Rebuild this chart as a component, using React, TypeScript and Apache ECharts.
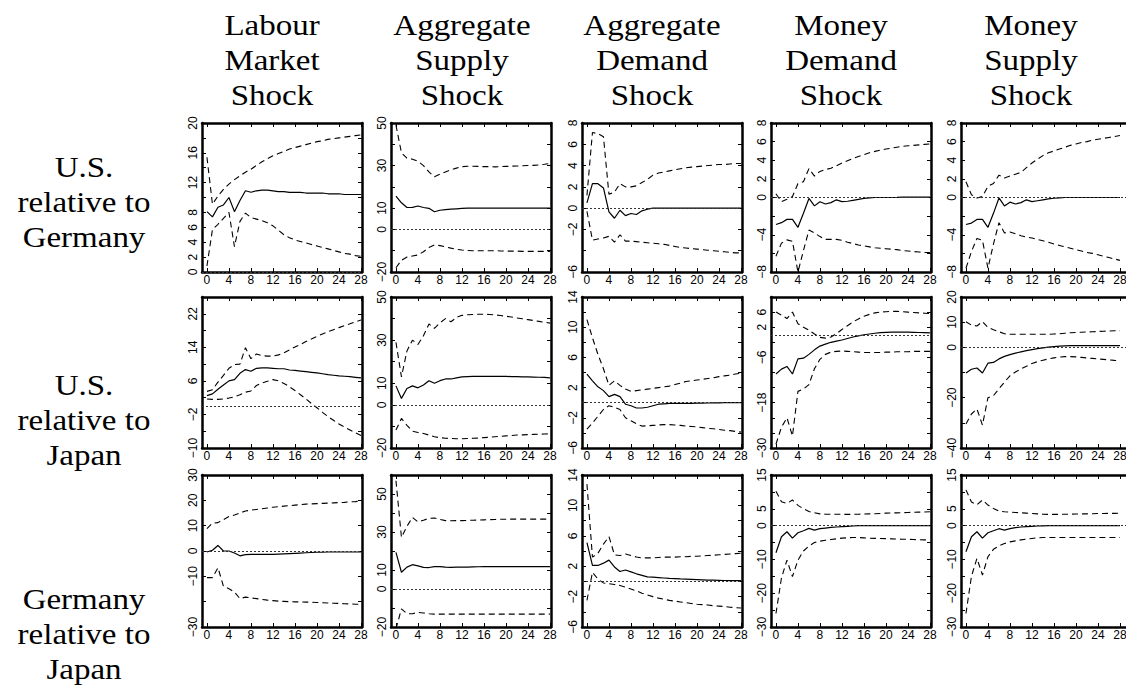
import React, { useEffect, useRef } from "react";
import * as echarts from "echarts";

// Forecast horizon (quarters after the shock)
const horizons = [0, 1, 2, 3, 4, 5, 6, 7, 8, 9, 10, 11, 12, 13, 14, 15, 16, 17, 18, 19, 20, 21, 22, 23, 24, 25, 26, 27, 28];

const shockTitles = [
  "Labour\nMarket\nShock",
  "Aggregate\nSupply\nShock",
  "Aggregate\nDemand\nShock",
  "Money\nDemand\nShock",
  "Money\nSupply\nShock",
];
const pairTitles = ["U.S.\nrelative to\nGermany", "U.S.\nrelative to\nJapan", "Germany\nrelative to\nJapan"];

// ---- U.S. relative to Germany ----
const usDeLabourMid = [8.1, 7.4, 8.7, 9.0, 10.0, 8.1, 9.6, 10.9, 10.7, 10.9, 11.0, 11.0, 10.9, 10.8, 10.8, 10.7, 10.7, 10.7, 10.6, 10.6, 10.6, 10.6, 10.5, 10.5, 10.5, 10.4, 10.4, 10.4, 10.4];
const usDeLabourHi = [15.4, 9.1, 10.2, 11.1, 11.8, 12.4, 12.9, 13.4, 13.8, 14.3, 14.8, 15.2, 15.6, 15.9, 16.2, 16.5, 16.7, 16.9, 17.1, 17.3, 17.5, 17.6, 17.8, 17.9, 18.0, 18.1, 18.2, 18.3, 18.4];
const usDeLabourLo = [0.8, 5.7, 6.4, 7.2, 8.0, 3.4, 6.8, 7.9, 7.3, 7.1, 6.9, 6.6, 6.2, 5.6, 5.0, 4.6, 4.3, 4.1, 3.9, 3.7, 3.5, 3.3, 3.1, 2.9, 2.7, 2.5, 2.4, 2.2, 2.1];

const usDeSupplyMid = [15.7, 12.5, 10.3, 10.4, 11.0, 10.3, 9.9, 8.3, 9.0, 9.3, 9.5, 9.7, 9.9, 10.0, 10.0, 10.0, 10.0, 10.0, 10.0, 10.0, 10.0, 10.0, 10.0, 10.0, 10.0, 10.0, 10.0, 10.0, 10.0];
const usDeSupplyHi = [49, 36, 33.5, 33, 32, 30, 27, 24.7, 26, 27, 28, 28.8, 29.5, 29.7, 29.7, 29.6, 29.5, 29.5, 29.4, 29.5, 29.6, 29.7, 29.8, 29.9, 30.0, 30.1, 30.3, 30.6, 31.0];
const usDeSupplyLo = [-18, -14.5, -13, -12.5, -12, -10.5, -8.5, -7.3, -7.6, -8.2, -8.8, -9.3, -9.7, -9.9, -10, -10, -10, -10, -10, -10.1, -10.2, -10.2, -10.2, -10.3, -10.3, -10.3, -10.3, -10.3, -10.3];

const usDeDemandMid = [0.5, 2.3, 2.3, 1.9, -0.35, -0.95, -0.2, -0.7, -0.5, -0.6, -0.25, -0.1, 0, 0, 0, 0, 0, 0, 0, 0, 0, 0, 0, 0, 0, 0, 0, 0, 0];
const usDeDemandHi = [1.2, 7.1, 7.0, 6.7, 1.3, 1.5, 2.3, 2.0, 2.0, 2.1, 2.4, 2.7, 3.1, 3.3, 3.4, 3.5, 3.6, 3.7, 3.8, 3.85, 3.9, 3.95, 4.0, 4.05, 4.1, 4.1, 4.15, 4.2, 4.2];
const usDeDemandLo = [-0.3, -3.0, -2.9, -2.8, -2.65, -3.2, -2.5, -3.1, -3.1, -3.15, -3.2, -3.25, -3.3, -3.35, -3.4, -3.5, -3.6, -3.7, -3.75, -3.8, -3.85, -3.9, -3.95, -4.0, -4.05, -4.1, -4.15, -4.2, -4.2];

const usDeMoneyDMid = [-2.9, -2.7, -2.35, -2.35, -3.2, -1.7, -0.1, -0.9, -0.45, -0.7, -0.55, -0.25, -0.45, -0.4, -0.3, -0.2, -0.1, -0.05, 0, 0, 0, 0, 0.02, 0.05, 0.05, 0.05, 0.05, 0.05, 0.05];
const usDeMoneyDHi = [0.4, -0.45, -0.2, 0.1, 1.5, 1.7, 3.1, 2.3, 2.8, 3.0, 3.15, 3.4, 3.7, 3.95, 4.2, 4.4, 4.6, 4.8, 4.95, 5.1, 5.2, 5.3, 5.4, 5.5, 5.55, 5.6, 5.65, 5.7, 5.75];
const usDeMoneyDLo = [-6.3, -4.9, -4.55, -4.7, -8.0, -5.7, -3.5, -3.8, -4.2, -4.5, -4.5, -4.5, -4.6, -4.8, -4.95, -5.1, -5.2, -5.3, -5.4, -5.45, -5.5, -5.55, -5.6, -5.7, -5.75, -5.8, -5.85, -5.9, -5.9];

const usDeMoneySMid = [-2.9, -2.75, -2.35, -2.35, -3.2, -1.7, -0.05, -0.9, -0.5, -0.7, -0.55, -0.25, -0.45, -0.35, -0.25, -0.15, -0.08, -0.03, 0, 0, 0, 0, 0, 0, 0, 0, 0, 0, 0];
const usDeMoneySHi = [1.7, 0.3, -0.05, 0.1, 1.2, 1.5, 2.4, 2.1, 2.3, 2.5, 2.7, 3.2, 3.7, 4.1, 4.5, 4.8, 5.0, 5.2, 5.4, 5.6, 5.75, 5.9, 6.0, 6.15, 6.25, 6.35, 6.45, 6.55, 6.65];
const usDeMoneySLo = [-7.6, -5.8, -4.4, -4.6, -7.6, -5.0, -2.7, -3.8, -3.7, -3.9, -4.1, -4.25, -4.35, -4.5, -4.65, -4.8, -5.0, -5.15, -5.3, -5.45, -5.6, -5.75, -5.9, -6.0, -6.15, -6.3, -6.45, -6.6, -6.75];

// ---- U.S. relative to Japan ----
const usJpLabourMid = [2.5, 2.9, 4.0, 5.0, 6.0, 6.3, 7.8, 8.7, 8.3, 9.0, 9.1, 9.1, 9.0, 8.9, 8.9, 8.6, 8.5, 8.35, 8.2, 8.05, 7.9, 7.7, 7.5, 7.35, 7.2, 7.1, 7.0, 6.85, 6.7];
const usJpLabourHi = [3.5, 3.9, 5.7, 7.3, 9.0, 9.9, 10.0, 13.9, 11.3, 12.4, 12.0, 11.9, 11.9, 12.2, 12.7, 13.4, 14.1, 14.7, 15.4, 16.0, 16.6, 17.2, 17.7, 18.2, 18.7, 19.2, 19.6, 20.1, 20.5];
const usJpLabourLo = [1.7, 1.6, 1.6, 1.7, 1.9, 2.2, 2.7, 3.3, 3.6, 4.9, 5.5, 5.9, 6.3, 6.0, 5.4, 4.6, 3.7, 2.7, 1.7, 0.6, -0.4, -1.5, -2.5, -3.4, -4.3, -5.0, -5.7, -6.4, -7.0];

const usJpSupplyMid = [8.8, 3.0, 7.6, 8.8, 7.9, 9.2, 11.2, 10.0, 11.2, 12.0, 12.0, 12.5, 13.0, 13.1, 13.2, 13.2, 13.2, 13.2, 13.2, 13.2, 13.2, 13.1, 13.1, 13.0, 13.0, 12.9, 12.8, 12.7, 12.5];
const usJpSupplyHi = [29, 13, 25, 30, 28, 32, 37.5, 35.5, 38, 40, 38.5, 40.5, 41.5, 41.8, 41.9, 42, 42, 41.9, 41.7, 41.4, 41.1, 40.7, 40.3, 39.9, 39.5, 39.1, 38.7, 38.3, 37.9];
const usJpSupplyLo = [-11.7, -6.3, -9.5, -12.2, -12.8, -13.3, -14, -14.8, -15.2, -15.5, -15.6, -15.7, -15.7, -15.6, -15.5, -15.4, -15.2, -15.0, -14.8, -14.6, -14.4, -14.2, -14.0, -13.9, -13.8, -13.7, -13.6, -13.5, -13.4];

const usJpDemandMid = [3.8, 2.9, 2.1, 1.6, 0.8, 1.1, 0.8, -0.2, -0.4, -0.7, -0.7, -0.6, -0.4, -0.2, -0.15, -0.1, -0.1, -0.1, -0.1, -0.08, -0.06, -0.05, -0.04, -0.03, -0.02, 0, 0, 0, 0];
const usJpDemandHi = [11, 8.6, 6.4, 4.5, 2.3, 2.9, 2.3, 1.8, 1.5, 1.6, 1.7, 1.8, 1.9, 2.0, 2.1, 2.2, 2.4, 2.6, 2.8, 2.9, 3.0, 3.1, 3.2, 3.3, 3.45, 3.55, 3.65, 3.8, 3.9];
const usJpDemandLo = [-3.5, -2.7, -1.8, -0.9, -0.4, -0.6, -0.9, -2.0, -2.4, -2.8, -3.1, -3.05, -3.0, -2.95, -2.9, -2.9, -2.95, -3.0, -3.1, -3.15, -3.2, -3.3, -3.4, -3.45, -3.55, -3.65, -3.7, -3.8, -3.9];

const usJpMoneyDMid = [-10.4, -9.1, -8.4, -10.4, -6.4, -6.2, -5.2, -4.0, -3.0, -2.5, -2.0, -1.7, -1.4, -1.0, -0.6, -0.3, 0.0, 0.2, 0.4, 0.55, 0.65, 0.7, 0.7, 0.7, 0.7, 0.65, 0.6, 0.55, 0.5];
const usJpMoneyDHi = [6.0, 5.2, 4.3, 6.0, 2.9, 2.0, 1.2, 0.2, -0.7, -0.9, -0.6, 0.3, 1.4, 2.4, 3.4, 4.2, 4.9, 5.4, 5.8, 6.0, 6.1, 6.2, 6.2, 6.1, 6.0, 5.9, 5.8, 5.7, 5.6];
const usJpMoneyDLo = [-29, -24.5, -22, -26.8, -15, -14.4, -13.2, -9, -6.5, -5.2, -4.6, -4.4, -4.3, -4.4, -4.5, -4.6, -4.7, -4.7, -4.7, -4.7, -4.6, -4.6, -4.5, -4.5, -4.5, -4.4, -4.4, -4.4, -4.4];

const usJpMoneySMid = [-10.2, -8.7, -8.2, -10.2, -6.3, -6.0, -4.6, -3.6, -2.9, -2.3, -1.8, -1.3, -0.9, -0.5, -0.2, 0.1, 0.3, 0.5, 0.6, 0.65, 0.66, 0.66, 0.66, 0.66, 0.66, 0.66, 0.66, 0.66, 0.66];
const usJpMoneySHi = [10.2, 8.8, 8.5, 10.2, 7.9, 7.0, 6.2, 5.4, 5.2, 5.2, 5.2, 5.2, 5.2, 5.2, 5.2, 5.2, 5.3, 5.4, 5.6, 5.8, 5.9, 6.0, 6.1, 6.2, 6.3, 6.4, 6.5, 6.6, 6.6];
const usJpMoneySLo = [-30.5, -26.5, -24.5, -30.9, -20.0, -19.2, -16.5, -13.8, -11.3, -9.8, -8.6, -7.5, -6.4, -5.7, -5.1, -4.6, -4.2, -3.9, -3.7, -3.7, -3.8, -4.0, -4.2, -4.4, -4.6, -4.8, -5.0, -5.2, -5.3];

// ---- Germany relative to Japan ----
const deJpLabourMid = [-0.4, 0.3, 2.2, 0.0, 0.0, -0.8, -1.9, -1.4, -1.3, -1.3, -1.3, -1.3, -1.3, -1.2, -1.1, -1.0, -0.9, -0.8, -0.7, -0.6, -0.5, -0.5, -0.4, -0.4, -0.4, -0.4, -0.4, -0.4, -0.4];
const deJpLabourHi = [8.8, 11.0, 11.2, 12.4, 13.6, 14.2, 15.0, 15.8, 16.1, 16.4, 16.7, 17.0, 17.3, 17.5, 17.7, 17.9, 18.1, 18.3, 18.5, 18.6, 18.7, 18.8, 18.9, 19.0, 19.1, 19.2, 19.4, 19.5, 19.7];
const deJpLabourLo = [-10.5, -10.5, -6.6, -13.9, -14.9, -16.2, -18.8, -18.2, -18.5, -18.8, -19.1, -19.4, -19.6, -19.8, -19.9, -20.0, -20.1, -20.1, -20.2, -20.2, -20.3, -20.4, -20.5, -20.6, -20.7, -20.8, -20.9, -21.0, -21.0];

const deJpSupplyMid = [19.3, 8.8, 11.5, 12.8, 12.2, 11.4, 11.3, 11.8, 11.8, 11.5, 11.4, 11.5, 11.5, 11.5, 11.6, 11.7, 11.8, 11.8, 11.8, 11.8, 11.8, 11.8, 11.8, 11.8, 11.8, 11.8, 11.8, 11.8, 11.8];
const deJpSupplyHi = [57, 27.2, 33, 37.7, 35.3, 36.2, 37.2, 37.4, 36.6, 36.0, 35.9, 36.0, 36.0, 36.1, 36.2, 36.3, 36.4, 36.5, 36.6, 36.7, 36.7, 36.8, 36.8, 36.8, 36.8, 36.8, 36.8, 36.8, 36.8];
const deJpSupplyLo = [-21, -10.5, -13.0, -13.0, -12.3, -12.6, -13.0, -13.2, -13.2, -13.2, -13.2, -13.2, -13.2, -13.2, -13.2, -13.2, -13.2, -13.2, -13.2, -13.2, -13.2, -13.2, -13.2, -13.2, -13.2, -13.2, -13.2, -13.2, -13.2];

const deJpDemandMid = [5.1, 2.1, 2.1, 2.4, 2.8, 1.9, 1.3, 1.5, 1.25, 1.0, 0.8, 0.6, 0.55, 0.5, 0.45, 0.4, 0.37, 0.33, 0.3, 0.27, 0.24, 0.21, 0.18, 0.16, 0.14, 0.12, 0.1, 0.1, 0.1];
const deJpDemandHi = [12.8, 3.2, 3.7, 4.9, 5.9, 3.5, 3.4, 3.6, 3.4, 3.2, 3.1, 3.1, 3.1, 3.15, 3.2, 3.2, 3.2, 3.25, 3.25, 3.3, 3.3, 3.35, 3.4, 3.45, 3.5, 3.55, 3.6, 3.65, 3.7];
const deJpDemandLo = [-2.5, 1.2, 0.3, -0.2, -0.3, -0.4, -0.55, -0.75, -1.0, -1.25, -1.55, -1.8, -2.0, -2.2, -2.35, -2.5, -2.6, -2.7, -2.8, -2.9, -3.0, -3.05, -3.1, -3.2, -3.25, -3.3, -3.4, -3.45, -3.5];

const deJpMoneyDMid = [-8, -3.3, -1.8, -3.7, -2.1, -1.5, -0.8, -1.3, -0.9, -0.7, -0.5, -0.4, -0.3, -0.2, -0.1, 0, 0, 0, 0, 0, 0, 0, 0, 0, 0, 0, 0, 0, 0];
const deJpMoneyDHi = [10.2, 7.1, 6.6, 7.6, 6.0, 5.0, 4.2, 3.8, 3.5, 3.4, 3.4, 3.4, 3.35, 3.35, 3.35, 3.4, 3.45, 3.5, 3.55, 3.6, 3.7, 3.75, 3.8, 3.85, 3.9, 3.95, 4.0, 4.05, 4.1];
const deJpMoneyDLo = [-26, -15.5, -10.2, -15.1, -10.2, -7.5, -6.0, -5.0, -4.6, -4.3, -4.1, -3.9, -3.7, -3.6, -3.5, -3.5, -3.6, -3.7, -3.75, -3.8, -3.85, -3.9, -3.95, -4.0, -4.05, -4.1, -4.15, -4.2, -4.2];

const deJpMoneySMid = [-7.7, -3.3, -1.8, -3.7, -2.1, -1.5, -0.9, -1.3, -0.9, -0.6, -0.4, -0.3, -0.2, -0.1, -0.05, 0, 0, 0, 0, 0, 0, 0, 0, 0, 0, 0, 0, 0, 0];
const deJpMoneySHi = [10.6, 7.0, 6.2, 7.6, 6.1, 5.1, 4.3, 4.1, 4.0, 3.9, 3.8, 3.7, 3.6, 3.5, 3.4, 3.35, 3.35, 3.35, 3.4, 3.4, 3.45, 3.5, 3.5, 3.55, 3.6, 3.6, 3.65, 3.65, 3.7];
const deJpMoneySLo = [-26, -15, -9.7, -14.6, -9.2, -7.0, -6.0, -5.3, -4.8, -4.5, -4.2, -4.0, -3.8, -3.6, -3.5, -3.5, -3.5, -3.5, -3.5, -3.5, -3.5, -3.5, -3.5, -3.5, -3.5, -3.5, -3.5, -3.5, -3.5];

// Panel grid: rows = country pair, columns = shock. Each cell: [lower band, response, upper band]
const panelSeries = [
  [
    [usDeLabourLo, usDeLabourMid, usDeLabourHi],
    [usDeSupplyLo, usDeSupplyMid, usDeSupplyHi],
    [usDeDemandLo, usDeDemandMid, usDeDemandHi],
    [usDeMoneyDLo, usDeMoneyDMid, usDeMoneyDHi],
    [usDeMoneySLo, usDeMoneySMid, usDeMoneySHi],
  ],
  [
    [usJpLabourLo, usJpLabourMid, usJpLabourHi],
    [usJpSupplyLo, usJpSupplyMid, usJpSupplyHi],
    [usJpDemandLo, usJpDemandMid, usJpDemandHi],
    [usJpMoneyDLo, usJpMoneyDMid, usJpMoneyDHi],
    [usJpMoneySLo, usJpMoneySMid, usJpMoneySHi],
  ],
  [
    [deJpLabourLo, deJpLabourMid, deJpLabourHi],
    [deJpSupplyLo, deJpSupplyMid, deJpSupplyHi],
    [deJpDemandLo, deJpDemandMid, deJpDemandHi],
    [deJpMoneyDLo, deJpMoneyDMid, deJpMoneyDHi],
    [deJpMoneySLo, deJpMoneySMid, deJpMoneySHi],
  ],
];

// Horizon axis ticks / labels
const xTickValues = [0, 4, 8, 12, 16, 20, 24, 28];

// Vertical axis ranges, tick marks and printed labels per panel
const yRanges = [
  [[0, 20], [-20, 50], [-6, 8], [-8, 8], [-8, 8]],
  [[-10, 26], [-20, 50], [-6, 14], [-30, 10], [-40, 20]],
  [[-30, 30], [-20, 60], [-6, 14], [-30, 15], [-30, 15]],
];
const yTicks = [
  [
    [0, 2, 4, 6, 8, 10, 12, 14, 16, 18, 20],
    [-20, -10, 0, 10, 20, 30, 40, 50],
    [-6, -4, -2, 0, 2, 4, 6, 8],
    [-8, -6, -4, -2, 0, 2, 4, 6, 8],
    [-8, -6, -4, -2, 0, 2, 4, 6, 8],
  ],
  [
    [-10, -6, -2, 2, 6, 10, 14, 18, 22, 26],
    [-20, -10, 0, 10, 20, 30, 40, 50],
    [-6, -4, -2, 0, 2, 4, 6, 8, 10, 12, 14],
    [-30, -26, -22, -18, -14, -10, -6, -2, 2, 6, 10],
    [-40, -30, -20, -10, 0, 10, 20],
  ],
  [
    [-30, -20, -10, 0, 10, 20, 30],
    [-20, -10, 0, 10, 20, 30, 40, 50, 60],
    [-6, -4, -2, 0, 2, 4, 6, 8, 10, 12, 14],
    [-30, -25, -20, -15, -10, -5, 0, 5, 10, 15],
    [-30, -25, -20, -15, -10, -5, 0, 5, 10, 15],
  ],
];
const yLabels = [
  [
    [0, 2, 4, 6, 8, 12, 16, 20],
    [-20, 0, 10, 30, 50],
    [-6, -2, 0, 2, 4, 6, 8],
    [-8, -4, 0, 2, 4, 6, 8],
    [-8, -4, 0, 2, 4, 6, 8],
  ],
  [
    [-10, -2, 6, 14, 22],
    [-20, 0, 10, 30, 50],
    [-6, -2, 2, 6, 10, 14],
    [-30, -18, -6, 2, 6],
    [-40, -20, 0, 10, 20],
  ],
  [
    [-30, -10, 0, 10, 20, 30],
    [-20, 0, 10, 30, 50],
    [-6, -2, 2, 6, 10, 14],
    [-30, -20, -10, 0, 5, 15],
    [-30, -20, -10, 0, 5, 15],
  ],
];

// ---- layout (pixels) ----
const colLeft = [202, 391, 582, 771, 961];
const colWidth = [160, 160, 160, 160, 175];
const X_MIN = -0.9;
const PX_PER_STEP = 5.5;
const rowTop = [123, 297, 475];
const rowHeight = [149, 151, 152];
const headerCenter = [272, 462, 652, 841, 1031];
const headerTop = 7.5;
const pairCenterX = 84;
const pairTop = [149.5, 367.5, 582];

const SANS = "Liberation Sans";
const SERIF = "Liberation Serif";
const BORDER = 2.5;

const fmt = (v: number) => (v < 0 ? "\u2212" + Math.abs(v) : String(v));

function buildOption() {
  const grid: any[] = [];
  const xAxis: any[] = [];
  const yAxis: any[] = [];
  const series: any[] = [];

  for (let r = 0; r < 3; r++) {
    for (let c = 0; c < 5; c++) {
      const idx = r * 5 + c;
      grid.push({
        left: colLeft[c],
        top: rowTop[r],
        width: colWidth[c],
        height: rowHeight[r],
        containLabel: false,
        outerBoundsMode: "none",
      });
      const xMax = X_MIN + colWidth[c] / PX_PER_STEP;
      const lineStyle = { color: "#000", width: BORDER };
      const tickStyle = { show: true, inside: true, length: 4, lineStyle: { color: "#000", width: 1 } };
      xAxis.push({
        type: "value",
        gridIndex: idx,
        position: "bottom",
        min: X_MIN,
        max: xMax,
        axisLine: { show: true, onZero: false, lineStyle },
        axisTick: { ...tickStyle, customValues: xTickValues },
        axisLabel: {
          show: true,
          customValues: xTickValues,
          margin: 2,
          fontSize: 12,
          fontFamily: SANS,
          color: "#000",
        },
        splitLine: { show: false },
      });
      xAxis.push({
        type: "value",
        gridIndex: idx,
        position: "top",
        min: X_MIN,
        max: xMax,
        axisLine: { show: true, onZero: false, lineStyle },
        axisTick: { ...tickStyle, customValues: xTickValues },
        axisLabel: { show: false },
        splitLine: { show: false },
      });
      const [yMin, yMax] = yRanges[r][c];
      yAxis.push({
        type: "value",
        gridIndex: idx,
        position: "left",
        min: yMin,
        max: yMax,
        axisLine: { show: true, onZero: false, lineStyle },
        axisTick: { ...tickStyle, customValues: yTicks[r][c] },
        axisLabel: {
          show: true,
          customValues: yLabels[r][c],
          rotate: 90,
          margin: 3,
          fontSize: 12,
          fontFamily: SANS,
          color: "#000",
          formatter: (v: number) => fmt(v),
        },
        splitLine: { show: false },
      });
      yAxis.push({
        type: "value",
        gridIndex: idx,
        position: "right",
        min: yMin,
        max: yMax,
        axisLine: { show: true, onZero: false, lineStyle },
        axisTick: { ...tickStyle, customValues: yTicks[r][c] },
        axisLabel: { show: false },
        splitLine: { show: false },
      });

      const [lo, mid, hi] = panelSeries[r][c];
      const pairs = (arr: number[]) => horizons.map((h, i) => [h, arr[i]]);
      const base = {
        type: "line",
        xAxisIndex: idx * 2,
        yAxisIndex: idx * 2,
        symbol: "none",
        silent: true,
        clip: true,
      };
      series.push({
        ...base,
        name: `lower-${idx}`,
        data: pairs(lo),
        lineStyle: { color: "#000", width: 1.1, type: [6, 4] },
      });
      series.push({
        ...base,
        name: `upper-${idx}`,
        data: pairs(hi),
        lineStyle: { color: "#000", width: 1.1, type: [6, 4] },
      });
      series.push({
        ...base,
        name: `response-${idx}`,
        data: pairs(mid),
        lineStyle: { color: "#000", width: 1.2, type: "solid" },
        markLine: {
          silent: true,
          symbol: ["none", "none"],
          label: { show: false },
          lineStyle: { color: "#333", width: 1, type: [2, 2] },
          data: [{ yAxis: 0 }],
        },
      });
    }
  }

  const graphic: any[] = [];
  shockTitles.forEach((t, c) => {
    graphic.push({
      type: "text",
      x: headerCenter[c],
      y: headerTop,
      scaleX: 1.1,
      style: {
        text: t,
        fontFamily: SERIF,
        fontSize: 30,
        lineHeight: 35,
        align: "center",
        verticalAlign: "top",
        fill: "#000",
      },
    });
  });
  pairTitles.forEach((t, r) => {
    graphic.push({
      type: "text",
      x: pairCenterX,
      y: pairTop[r],
      scaleX: 1.1,
      style: {
        text: t,
        fontFamily: SERIF,
        fontSize: 30,
        lineHeight: 35,
        align: "center",
        verticalAlign: "top",
        fill: "#000",
      },
    });
  });

  return {
    animation: false,
    backgroundColor: "#fff",
    grid,
    xAxis,
    yAxis,
    series,
    graphic,
  };
}

export default function App() {
  const ref = useRef<HTMLDivElement>(null);
  useEffect(() => {
    if (!ref.current) return;
    const chart = echarts.init(ref.current, undefined, { renderer: "svg" });
    chart.setOption(buildOption() as any);
    return () => chart.dispose();
  }, []);
  return (
    <div
      style={{
        position: "absolute",
        left: 0,
        top: 0,
        width: 1126,
        height: 695,
        overflow: "hidden",
        background: "#fff",
      }}
    >
      <div ref={ref} style={{ width: 1126, height: 695 }} />
    </div>
  );
}
